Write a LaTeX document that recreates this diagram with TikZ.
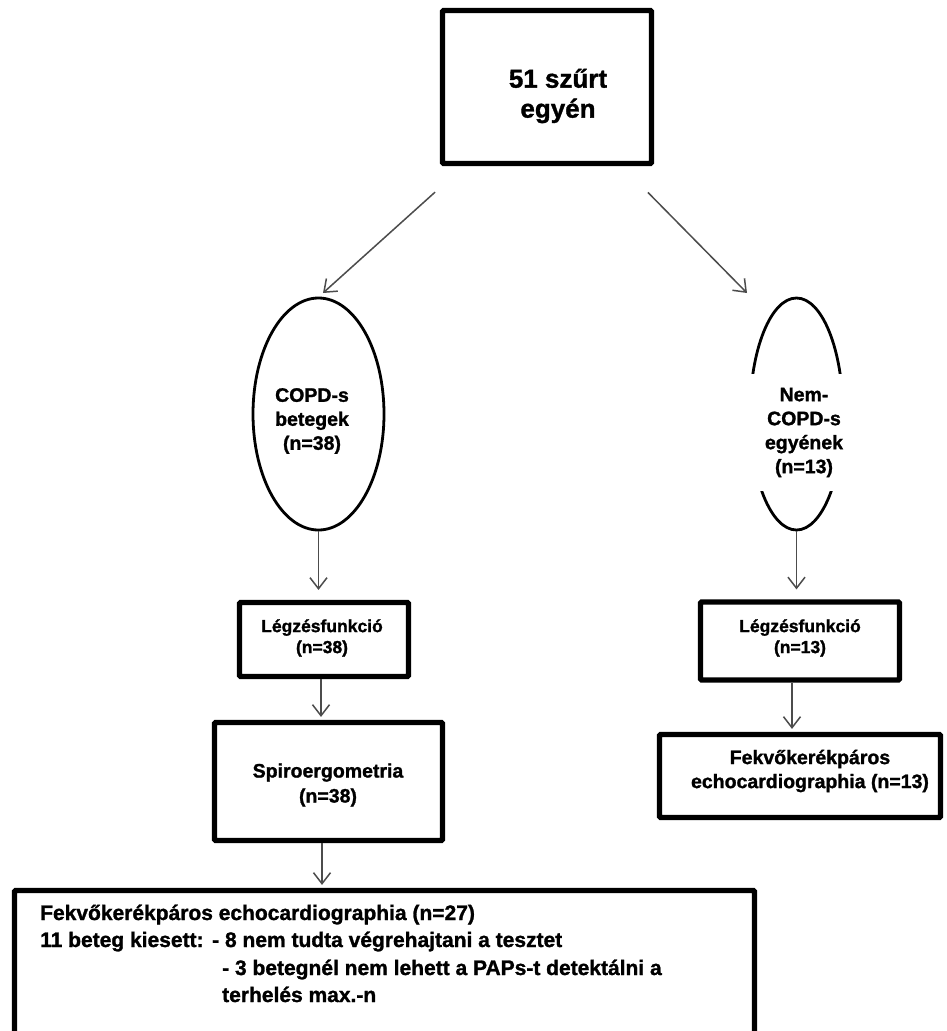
\documentclass[tikz,border=0pt]{standalone}
\usepackage{fontspec}
\setmainfont{Liberation Sans}[BoldFeatures={FakeBold=1.3}]
\usetikzlibrary{arrows.meta,shapes.geometric}
\begin{document}
\begin{tikzpicture}[x=1pt,y=-1pt,
  frame/.style={draw=black,line width=5.2pt,rounded corners=1pt,inner sep=0pt},
  oval/.style={ellipse,draw=black,line width=2.8pt,inner sep=0pt},
  lbl/.style={align=center,inner sep=0pt},
  big/.style={font=\bfseries\fontsize{26}{30}\selectfont},
  mid/.style={font=\bfseries\fontsize{19.5}{24}\selectfont},
  small/.style={font=\bfseries\fontsize{17.5}{21}\selectfont},
  note/.style={anchor=base west,inner sep=0pt,font=\bfseries\fontsize{21}{27}\selectfont},
  flow/.style={draw=black!70,line width=1.5pt,
    -{Straight Barb[length=11pt,width=17pt,line width=1.5pt]}},
]
% page area and background
\clip (0,0) rectangle (947,1031);
\fill[white] (0,0) rectangle (947,1031);

% top box
\node[frame,minimum width=209pt,minimum height=153pt] (top) at (547,87) {};
\node[lbl,big] (toptext) at (558,96) {51 szűrt\\egyén};

% the two groups
\node[oval,minimum width=131pt,minimum height=232pt] (copd) at (318.5,414) {};
\node[lbl,mid] (copdtext) at (312,421) {COPD-s\\betegek\\(n=38)};

\node[oval,minimum width=93pt,minimum height=232pt] (nonc) at (796.5,414) {};
\node[lbl,mid,fill=white,minimum width=118pt,minimum height=117pt] (nonctext) at (804,432.5)
  {Nem-\\COPD-s\\egyének\\(n=13)};

% lung function boxes
\node[frame,minimum width=169pt,minimum height=74pt] (leg1) at (324,639.5) {};
\node[lbl,small] (leg1text) at (322,638) {Légzésfunkció\\(n=38)};

\node[frame,minimum width=199pt,minimum height=78pt] (leg2) at (800,641) {};
\node[lbl,small] (leg2text) at (800,638) {Légzésfunkció\\(n=13)};

% exercise tests
\node[frame,minimum width=228pt,minimum height=118pt] (spiro) at (328.5,781.5) {};
\node[lbl,font=\bfseries\fontsize{19.5}{25}\selectfont] (spirotext) at (328,785)
  {Spiroergometria\\(n=38)};

\node[frame,minimum width=281pt,minimum height=83pt] (echo2) at (800,776) {};
\node[lbl,mid] (echo2text) at (810,771) {Fekvőkerékpáros\\echocardiographia (n=13)};

% final box (runs past the lower edge)
\node[frame,minimum width=740pt,minimum height=210pt] (echo1) at (384.5,995.5) {};
\node[note] (b1) at (40,920) {Fekvőkerékpáros echocardiographia (n=27)};
\node[note] (b2) at (40,947) {\makebox[172pt][l]{11 beteg kiesett:}- 8 nem tudta végrehajtani a tesztet};
\node[note] (b3) at (222,975) {- 3 betegnél nem lehett a PAPs-t detektálni a};
\node[note] (b4) at (222,1002) {terhelés max.-n};

% connectors
\coordinate (ltip) at (323,293);
\coordinate (rtip) at (747,293);
\draw[flow,shorten <=39pt] ([xshift=-83pt]top.south) -- (ltip);
\draw[flow,shorten <=37pt] ([xshift=75pt]top.south) -- (rtip);
\draw[flow,shorten >=10pt] (copd.south) -- (copd.south |- leg1.north);
\draw[flow,shorten >=10pt] (nonc.south) -- (nonc.south |- leg2.north);
\draw[flow,shorten >=3pt] ([xshift=-3pt]leg1.south) -- ([xshift=-3pt]leg1.south |- spiro.north);
\draw[flow,shorten >=3pt] ([xshift=-6.5pt]spiro.south) -- ([xshift=-6.5pt]spiro.south |- echo1.north);
\draw[flow,shorten >=3pt] ([xshift=-8pt]leg2.south) -- ([xshift=-8pt]leg2.south |- echo2.north);
\end{tikzpicture}
\end{document}
